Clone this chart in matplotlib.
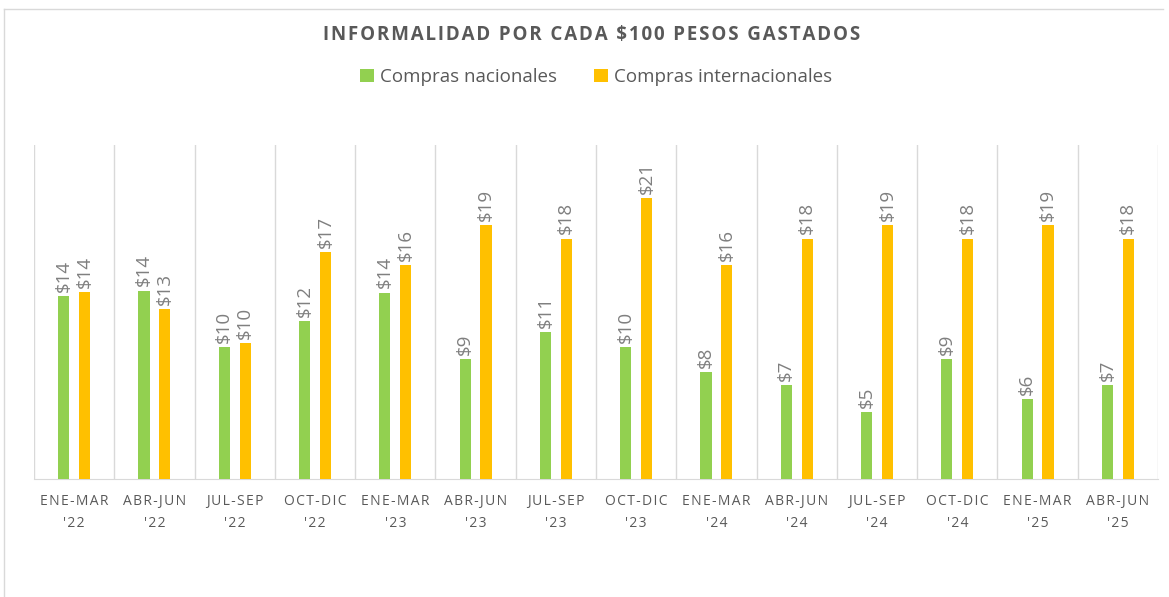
import matplotlib.pyplot as plt
import numpy as np
from matplotlib.lines import Line2D

periodos = ["ENE-MAR\n'22", "ABR-JUN\n'22", "JUL-SEP\n'22", "OCT-DIC\n'22",
            "ENE-MAR\n'23", "ABR-JUN\n'23", "JUL-SEP\n'23", "OCT-DIC\n'23",
            "ENE-MAR\n'24", "ABR-JUN\n'24", "JUL-SEP\n'24", "OCT-DIC\n'24",
            "ENE-MAR\n'25", "ABR-JUN\n'25"]
nacionales = [13.7, 14.1, 9.85, 11.8, 13.95, 9, 11, 9.9, 8, 7, 5, 9, 6, 7]
internacionales = [14.0, 12.7, 10.15, 17, 16, 19, 18, 21, 16, 18, 19, 18, 19, 18]

VERDE = '#92D050'
NARANJA = '#FFC000'
GRIS = '#595959'
HS = '\u200a'


def espaciado(txt, sep=HS):
    return '\n'.join(sep.join(linea) for linea in txt.split('\n'))


plt.rcParams['font.family'] = ['Open Sans', 'DejaVu Sans']

fig = plt.figure(figsize=(11.69, 5.97), dpi=100)
ax = fig.add_axes([34 / 1169, 1 - 479 / 597, (1158 - 34) / 1169, (479 - 145) / 597])

x = np.arange(len(periodos))
w = 0.14
off = 0.13
b1 = ax.bar(x - off, nacionales, w, color=VERDE, label='Compras nacionales', zorder=3)
b2 = ax.bar(x + off, internacionales, w, color=NARANJA, label='Compras internacionales', zorder=3)

for barras, vals in [(b1, nacionales), (b2, internacionales)]:
    for b, v in zip(barras, vals):
        ax.annotate(f'${v:.0f}', (b.get_x() + b.get_width() / 2, b.get_height()),
                    xytext=(0, 3), textcoords='offset points', rotation=90,
                    ha='center', va='bottom', fontsize=13.5, color='#7f7f7f')

ax.set_xlim(-0.5, len(periodos) - 0.5)
ax.set_ylim(0, 25)
ax.set_yticks([])
ax.set_xticks(x)
ax.set_xticklabels([espaciado(p) for p in periodos], fontsize=10, color=GRIS,
                   linespacing=1.6)
ax.tick_params(axis='x', length=0, pad=11)
for xi in np.arange(-0.5, len(periodos), 1):
    ax.axvline(xi, color='#d9d9d9', lw=1, zorder=1)
for s in ['top', 'right', 'left']:
    ax.spines[s].set_visible(False)
ax.spines['bottom'].set_color('#d9d9d9')

fig.text(592 / 1169, 1 - 35 / 597, espaciado('INFORMALIDAD POR CADA $100 PESOS GASTADOS'),
         ha='center', va='center', fontsize=13.5, fontweight='bold', color=GRIS)
fig.legend(handles=[b1, b2], loc='center', bbox_to_anchor=(596 / 1169, 1 - 77 / 597),
           ncol=2, frameon=False, fontsize=13.5, handlelength=0.75, handleheight=0.75,
           handletextpad=0.3, columnspacing=2.0, labelcolor=GRIS)

# borde del grafico
fig.add_artist(Line2D([4 / 1169, 1163 / 1169], [1 - 9 / 597, 1 - 9 / 597],
                      transform=fig.transFigure, color='#d9d9d9', lw=1))
fig.add_artist(Line2D([4 / 1169, 4 / 1169], [0, 1 - 9 / 597],
                      transform=fig.transFigure, color='#d9d9d9', lw=1))

fig.savefig('out.png', dpi=100)
